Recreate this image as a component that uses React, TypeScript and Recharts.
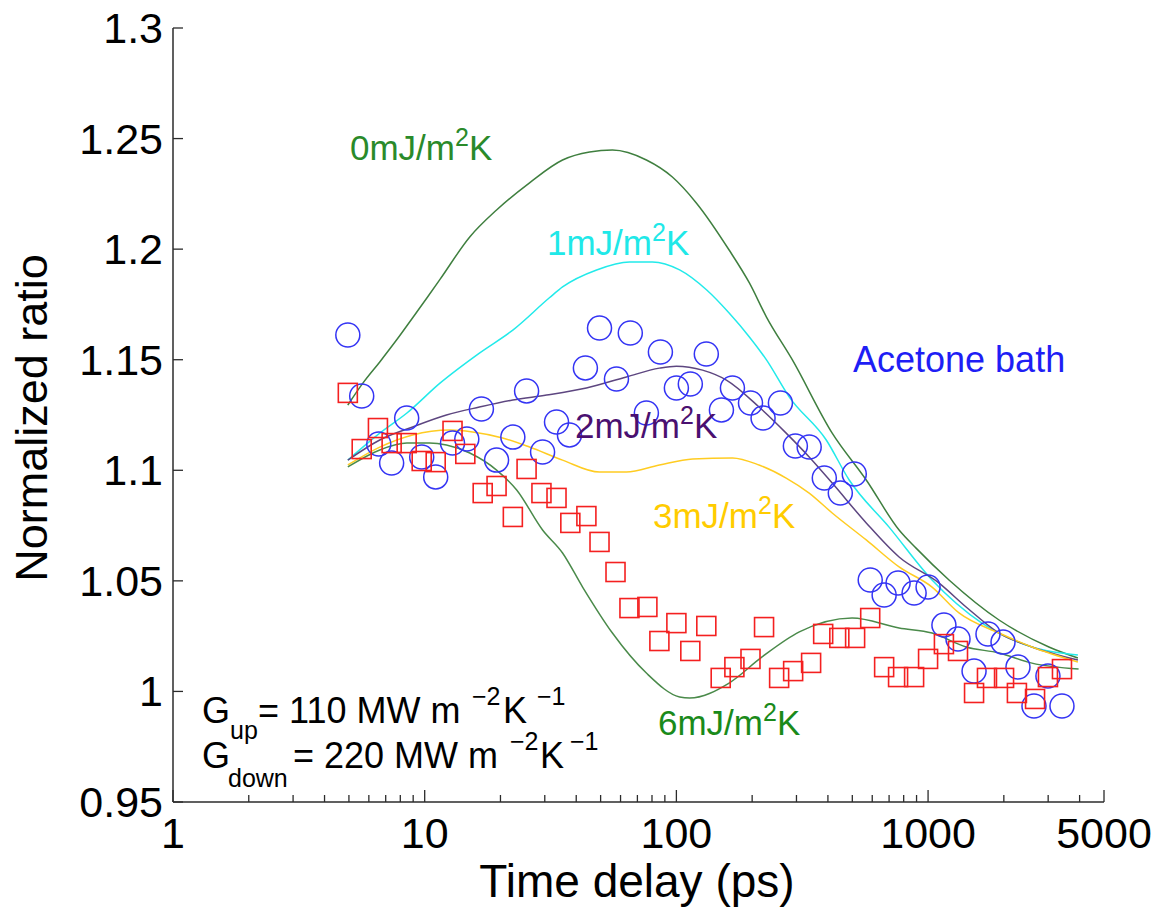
import React from 'react';
import { ComposedChart, Line, Scatter, XAxis, YAxis } from 'recharts';

const FONT = '"Liberation Sans", Arial, Helvetica, sans-serif';
const AXIS = '#2b2b2b';

// ---- model curves (time delay in ps, normalized ratio) ----
const tG0 = [4.95, 5.68, 6.63, 7.74, 8.96, 10.3, 11.5, 15.1, 19.3, 26.1, 35.3, 45.2, 55.7, 76, 96.4, 120, 162, 195, 228, 289, 416, 568, 767, 896, 1211, 1914, 3020, 3938];
const vG0 = [1.1295, 1.1394, 1.149, 1.159, 1.169, 1.1786, 1.1863, 1.2055, 1.2177, 1.23, 1.2403, 1.2439, 1.2448, 1.2403, 1.2326, 1.2209, 1.1996, 1.1847, 1.1693, 1.1499, 1.1168, 1.0956, 1.073, 1.0648, 1.0504, 1.0323, 1.0201, 1.0151];

const tG1 = [4.95, 6.63, 8.5, 11.5, 16.5, 22.4, 31.3, 35.3, 48.2, 65.1, 80.3, 103, 132, 162, 195, 228, 281, 394, 486, 700, 1037, 1637, 2587, 3938];
const vG1 = [1.1046, 1.1168, 1.1259, 1.1394, 1.153, 1.1634, 1.178, 1.1829, 1.1906, 1.1942, 1.1942, 1.1906, 1.1815, 1.1711, 1.1603, 1.1499, 1.1331, 1.1137, 1.0956, 1.0743, 1.0504, 1.0309, 1.0201, 1.0165];

const tG2 = [4.95, 6.63, 8.96, 12.2, 16.5, 22.4, 30.5, 43.9, 63.3, 85.6, 100, 127, 158, 213, 273, 337, 416, 568, 767, 1106, 1416, 1914, 2587, 3938];
const vG2 = [1.1046, 1.1137, 1.1196, 1.125, 1.1286, 1.1318, 1.134, 1.1372, 1.1422, 1.1462, 1.1471, 1.1453, 1.1408, 1.1286, 1.1168, 1.106, 1.0942, 1.0762, 1.0608, 1.049, 1.0382, 1.0264, 1.0201, 1.0142];

const tG3 = [4.95, 6.63, 8.96, 12.6, 15.5, 20.4, 26.1, 35.3, 49.5, 63.3, 85.6, 116, 167, 213, 273, 337, 416, 568, 767, 1037, 1327, 1914, 2587, 3938];
const vG3 = [1.1024, 1.1105, 1.116, 1.1182, 1.1173, 1.1146, 1.1105, 1.1046, 1.0992, 1.0992, 1.1024, 1.1051, 1.1056, 1.1024, 1.0965, 1.0897, 1.0807, 1.0685, 1.0563, 1.0472, 1.0355, 1.0264, 1.0201, 1.0133];

const tG6 = [4.95, 6.63, 8.5, 10.45, 12.2, 15.1, 19.3, 23.2, 29.4, 35.3, 42.4, 55.7, 76, 103, 113, 162, 219, 308, 499, 767, 1037, 1416, 1914, 2587, 3963];
const vG6 = [1.1015, 1.1092, 1.1123, 1.1123, 1.1114, 1.1078, 1.1001, 1.0911, 1.073, 1.0626, 1.0472, 1.0264, 1.0083, 0.9975, 0.997, 1.0038, 1.0156, 1.0269, 1.0332, 1.0287, 1.0264, 1.0201, 1.0174, 1.0128, 1.0101];

// ---- measured data ----
const tAcetone = [4.95, 5.62, 6.57, 7.39, 8.48, 9.73, 11.06, 12.9, 14.7, 16.8, 19.3, 22.4, 25.4, 29.4, 33.4, 37.6, 43.5, 49.5, 57.8, 65.6, 76, 86.4, 100, 113.6, 131.5, 151, 167, 197, 221, 259, 297, 337, 387, 448, 509, 589, 669, 760, 880, 1000, 1156, 1315, 1523, 1730, 1985, 2276, 2635, 2994, 3404];
const vAcetone = [1.1612, 1.1336, 1.1119, 1.1033, 1.1236, 1.106, 1.097, 1.1123, 1.1141, 1.1277, 1.1046, 1.115, 1.1359, 1.1083, 1.1218, 1.116, 1.1463, 1.1643, 1.1413, 1.1621, 1.1259, 1.1535, 1.1372, 1.139, 1.1526, 1.1273, 1.1372, 1.1304, 1.1236, 1.1304, 1.111, 1.1105, 1.0965, 1.0897, 1.0983, 1.0504, 1.0436, 1.049, 1.0445, 1.0472, 1.03, 1.0237, 1.0092, 1.026, 1.0223, 1.011, 0.9934, 1.007, 0.9934];

const tSquares = [4.95, 5.62, 6.52, 7.39, 8.48, 9.73, 11.06, 12.9, 14.5, 17.0, 19.3, 22.4, 25.4, 29.1, 33.4, 37.9, 43.9, 49.5, 57.3, 65.1, 76.7, 85.6, 100, 113.6, 131.5, 150, 170, 197, 223, 256, 291, 343, 383, 444, 513, 589, 669, 760, 880, 1000, 1156, 1315, 1523, 1714, 2004, 2254, 2661, 2994, 3404];
const vSquares = [1.135, 1.1096, 1.1191, 1.1123, 1.1123, 1.1042, 1.1037, 1.1178, 1.1074, 1.0897, 1.0929, 1.0789, 1.1006, 1.0897, 1.0875, 1.0762, 1.0793, 1.0676, 1.054, 1.0377, 1.0382, 1.0228, 1.0309, 1.0183, 1.0296, 1.0061, 1.011, 1.0147, 1.0291, 1.0061, 1.0092, 1.0129, 1.026, 1.0242, 1.0242, 1.0332, 1.011, 1.0065, 1.0065, 1.0147, 1.0214, 1.0183, 0.9993, 1.0061, 1.0061, 0.9993, 0.9966, 1.0065, 1.0101];

// ---- ticks ----
const X_MAJOR = [1, 10, 100, 1000, 5000];
const X_MINOR = [2, 3, 4, 5, 6, 7, 8, 9, 20, 30, 40, 50, 60, 70, 80, 90, 200, 300, 400, 500, 600, 700, 800, 900, 2000, 3000, 4000];
const Y_TICKS = [0.95, 1, 1.05, 1.1, 1.15, 1.2, 1.25, 1.3];

const zip = (t: number[], v: number[]) => t.map((x, i) => ({ t: x, v: v[i] }));
const X_ALL = [...X_MAJOR, ...X_MINOR].sort((a, b) => a - b);

const BottomTick = (props: any) => {
  const { x, y, payload } = props;
  const val = payload.value;
  const major = X_MAJOR.includes(val);
  return (
    <g>
      <line x1={x} x2={x} y1={y} y2={y - (major ? 12 : 7)} stroke={AXIS} strokeWidth={1.3} />
      {major && (
        <text x={x} y={y + 46} textAnchor="middle" fontSize={43} fontFamily={FONT} fill="#000">
          {val}
        </text>
      )}
    </g>
  );
};

const TopTick = (props: any) => {
  const { x, y, payload } = props;
  const major = X_MAJOR.includes(payload.value);
  return <line x1={x} x2={x} y1={y} y2={y + (major ? 12 : 7)} stroke={AXIS} strokeWidth={1.3} />;
};

const LeftTick = (props: any) => {
  const { x, y, payload } = props;
  const label = String(+Number(payload.value).toFixed(2));
  return (
    <g>
      <line x1={x} x2={x + 10} y1={y} y2={y} stroke={AXIS} strokeWidth={1.3} />
      <text x={x - 10} y={y + 15} textAnchor="end" fontSize={43} fontFamily={FONT} fill="#000">
        {label}
      </text>
    </g>
  );
};

const RightTick = (props: any) => {
  const { x, y } = props;
  return <line x1={x} x2={x - 10} y1={y} y2={y} stroke={AXIS} strokeWidth={1.3} />;
};

const CircleShape = (props: any) => (
  <circle cx={props.cx} cy={props.cy} r={12} fill="none" stroke="#3434f4" strokeWidth={1.5} />
);
const SquareShape = (props: any) => (
  <rect x={props.cx - 9.5} y={props.cy - 9.5} width={19} height={19} fill="none" stroke="#f42020" strokeWidth={1.6} />
);

const W = 1159;
const H = 908;

const Label = ({ x, y, color, num }: { x: number; y: number; color: string; num: string }) => (
  <text x={x} y={y} fontSize={35} fontFamily={FONT} fill={color}>
    {num}mJ/m
    <tspan dy={-14} fontSize={25}>2</tspan>
    <tspan dy={14}>K</tspan>
  </text>
);

export default function App() {
  return (
    <div style={{ position: 'relative', width: W, height: H, marginTop: -8, marginLeft: -8, background: '#fff' }}>
      <ComposedChart width={W} height={H} margin={{ top: 28, right: 55, left: 0, bottom: 0 }}>
        <XAxis
          dataKey="t"
          type="number"
          scale="log"
          domain={[1, 5000]}
          allowDataOverflow
          ticks={X_ALL}
          interval={0}
          height={106}
          tickSize={0}
          tickMargin={0}
          tickLine={false}
          tick={<BottomTick />}
          axisLine={{ stroke: AXIS, strokeWidth: 1.5 }}
        />
        <XAxis
          xAxisId="top"
          orientation="top"
          dataKey="t"
          type="number"
          scale="log"
          domain={[1, 5000]}
          allowDataOverflow
          ticks={X_ALL}
          interval={0}
          height={0}
          tickSize={0}
          tickMargin={0}
          tickLine={false}
          tick={<TopTick />}
          axisLine={{ stroke: AXIS, strokeWidth: 1.5 }}
        />
        <YAxis
          type="number"
          domain={[0.95, 1.3]}
          allowDataOverflow
          ticks={Y_TICKS}
          interval={0}
          width={173}
          tickSize={0}
          tickMargin={0}
          tickLine={false}
          tick={<LeftTick />}
          axisLine={{ stroke: AXIS, strokeWidth: 1.5 }}
        />
        <YAxis
          yAxisId="right"
          orientation="right"
          type="number"
          domain={[0.95, 1.3]}
          allowDataOverflow
          ticks={Y_TICKS}
          interval={0}
          width={0}
          tickSize={0}
          tickMargin={0}
          tickLine={false}
          tick={<RightTick />}
          axisLine={{ stroke: AXIS, strokeWidth: 1.5 }}
        />
        <Line data={zip(tG0, vG0)} dataKey="v" type="monotone" stroke="#3f7f3f" strokeWidth={1.5} dot={false} isAnimationActive={false} />
        <Line data={zip(tG1, vG1)} dataKey="v" type="monotone" stroke="#22eaea" strokeWidth={1.5} dot={false} isAnimationActive={false} />
        <Line data={zip(tG2, vG2)} dataKey="v" type="monotone" stroke="#5d4680" strokeWidth={1.5} dot={false} isAnimationActive={false} />
        <Line data={zip(tG3, vG3)} dataKey="v" type="monotone" stroke="#ffcc22" strokeWidth={1.5} dot={false} isAnimationActive={false} />
        <Line data={zip(tG6, vG6)} dataKey="v" type="monotone" stroke="#4a8a4a" strokeWidth={1.5} dot={false} isAnimationActive={false} />
        <Scatter data={zip(tAcetone, vAcetone)} dataKey="v" shape={<CircleShape />} isAnimationActive={false} />
        <Scatter data={zip(tSquares, vSquares)} dataKey="v" shape={<SquareShape />} isAnimationActive={false} />
      </ComposedChart>
      <svg
        width={W}
        height={H}
        style={{ position: 'absolute', left: 0, top: 0, pointerEvents: 'none' }}
      >
        <g transform="translate(8, 8)">
          <Label x={342} y={152} color="#2a8a2a" num="0" />
          <Label x={539} y={247} color="#20e8e8" num="1" />
          <Label x={567} y={430} color="#4a1070" num="2" />
          <Label x={645} y={520} color="#ffcc00" num="3" />
          <Label x={650} y={727} color="#1a8a1a" num="6" />
          <text x={845} y={364} fontSize={36} fontFamily={FONT} fill="#1e1ef5">Acetone bath</text>

          <g fontFamily={FONT} fill="#000">
            <text x={194} y={715} fontSize={36}>G</text>
            <text x={222} y={731} fontSize={25}>up</text>
            <text x={250} y={715} fontSize={36}>= 110 MW m</text>
            <text x={464} y={697} fontSize={25}>−2</text>
            <text x={495} y={715} fontSize={36}>K</text>
            <text x={529} y={697} fontSize={25}>−1</text>

            <text x={194} y={760} fontSize={36}>G</text>
            <text x={220} y={779} fontSize={25}>down</text>
            <text x={285} y={760} fontSize={36}>= 220 MW m</text>
            <text x={502} y={742} fontSize={25}>−2</text>
            <text x={532} y={760} fontSize={36}>K</text>
            <text x={562} y={742} fontSize={25}>−1</text>
          </g>

          <text x={629} y={889} textAnchor="middle" fontSize={46} fontFamily={FONT} fill="#000">Time delay (ps)</text>
          <text
            transform="translate(39, 410) rotate(-90)"
            x={0}
            y={0}
            textAnchor="middle"
            fontSize={45}
            fontFamily={FONT}
            fill="#000"
          >
            Normalized ratio
          </text>
        </g>
      </svg>
    </div>
  );
}
